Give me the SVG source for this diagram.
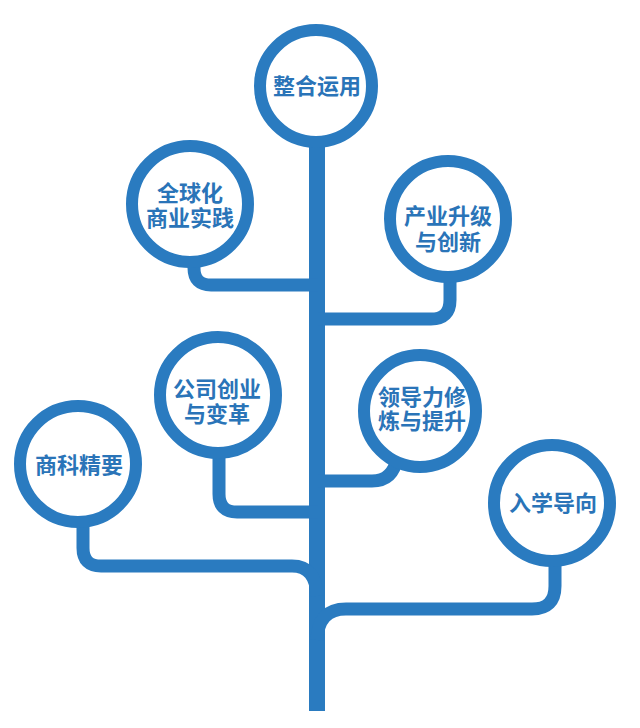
<svg xmlns="http://www.w3.org/2000/svg" width="640" height="728" viewBox="0 0 640 728">
<style>
.ring{fill:#fff;stroke:#2a7bc0;stroke-width:12}
.br{fill:none;stroke:#2a7bc0;stroke-width:13;stroke-linecap:butt}
.t{font-family:"Noto Sans CJK SC","Noto Sans",sans-serif;font-weight:bold;font-size:22px;fill:#2a74b8;text-anchor:middle;dominant-baseline:central}
</style>
<rect width="640" height="728" fill="#fff"/>
<g id="connectors">
<line x1="317" y1="140" x2="317" y2="711" stroke="#2a7bc0" stroke-width="16"/>
<path class="br" d="M194 262 V268 Q194 285 211 285 H318"/>
<path class="br" d="M450 279 V300 Q450 319 431 319 H318"/>
<path class="br" d="M219 452 V494 Q219 512 237 512 H318"/>
<path class="br" d="M83 524 V548 Q83 566 101 566 H292 Q316 566 317 596"/>
<path class="br" d="M397 458 Q393 481 372 481 H318"/>
<path class="br" d="M555 564 V586 Q555 609 532 609 H346 Q318 609 317 640"/>
</g>
<g id="n1"><circle class="ring" cx="316" cy="86" r="56"/><text class="t" x="317" y="84">整合运用</text></g>
<g id="n2"><circle class="ring" cx="190" cy="204" r="58"/><text class="t"><tspan x="190" y="191">全球化</tspan><tspan x="190" y="216">商业实践</tspan></text></g>
<g id="n3"><circle class="ring" cx="448" cy="219" r="58"/><text class="t"><tspan x="448" y="214">产业升级</tspan><tspan x="448" y="240">与创新</tspan></text></g>
<g id="n4"><circle class="ring" cx="218" cy="395" r="58"/><text class="t"><tspan x="217" y="387">公司创业</tspan><tspan x="217" y="412">与变革</tspan></text></g>
<g id="n5"><circle class="ring" cx="78" cy="464" r="58"/><text class="t" x="79" y="463">商科精要</text></g>
<g id="n6"><circle class="ring" cx="420" cy="411" r="56"/><text class="t"><tspan x="422" y="395">领导力修</tspan><tspan x="422" y="419">炼与提升</tspan></text></g>
<g id="n7"><circle class="ring" cx="552" cy="503" r="58"/><text class="t" x="553" y="501">入学导向</text></g>
</svg>
